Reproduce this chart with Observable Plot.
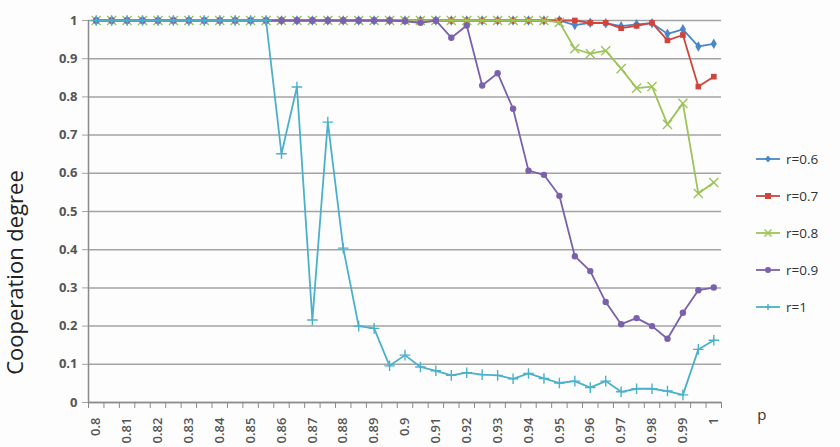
<!DOCTYPE html>
<html>
<head>
<meta charset="utf-8">
<script src="https://cdn.jsdelivr.net/npm/d3@7"></script>
<script src="https://cdn.jsdelivr.net/npm/@observablehq/plot@0.6"></script>
<style>
  body { margin: 0; background: #fdfdfd; }
  #wrap { position: relative; width: 840px; height: 447px; font-family: "Open Sans", sans-serif; }
  #legend { position: absolute; left: 756px; top: 140px; font-size: 13.5px; color: #333; }
  .item { display: flex; align-items: center; height: 37px; }
  .item svg { margin-right: 4px; }
</style>
</head>
<body>
<div id="wrap"></div>
<script>
const pValues = [0.8,0.805,0.81,0.815,0.82,0.825,0.83,0.835,0.84,0.845,0.85,0.855,0.86,0.865,0.87,0.875,0.88,0.885,0.89,0.895,0.9,0.905,0.91,0.915,0.92,0.925,0.93,0.935,0.94,0.945,0.95,0.955,0.96,0.965,0.97,0.975,0.98,0.985,0.99,0.995,1];
const tickLabels = [0.8,0.81,0.82,0.83,0.84,0.85,0.86,0.87,0.88,0.89,0.9,0.91,0.92,0.93,0.94,0.95,0.96,0.97,0.98,0.99,1];
const yTicks = [0,0.1,0.2,0.3,0.4,0.5,0.6,0.7,0.8,0.9,1];
const seriesNames = ["r=0.6","r=0.7","r=0.8","r=0.9","r=1"];
const seriesColors = ["#4a86c8","#d0443e","#9dc35a","#7b60ad","#4bb1cb"];
const seriesSymbols = ["diamond","square","times","circle","plus"];

const r06 = [1,1,1,1,1,1,1,1,1,1,1,1,1,1,1,1,1,1,1,1,1,1,1,1,1,1,1,1,1,1,1,0.988,0.994,0.993,0.985,0.99,0.993,0.965,0.977,0.932,0.939];
const r07 = [1,1,1,1,1,1,1,1,1,1,1,1,1,1,1,1,1,1,1,1,1,1,1,1,1,1,1,1,1,1,1,1,0.994,0.994,0.98,0.986,0.994,0.948,0.962,0.827,0.853];
const r08 = [1,1,1,1,1,1,1,1,1,1,1,1,1,1,1,1,1,1,1,1,1,1,1,1,1,1,1,1,1,1,0.995,0.926,0.913,0.921,0.874,0.823,0.827,0.728,0.783,0.547,0.576];
const r09 = [1,1,1,1,1,1,1,1,1,1,1,1,1,1,1,1,1,1,1,1,0.998,0.994,1,0.955,0.987,0.83,0.862,0.769,0.607,0.596,0.541,0.383,0.344,0.263,0.205,0.221,0.2,0.167,0.235,0.294,0.301];
const r1  = [1,1,1,1,1,1,1,1,1,1,1,1,0.651,0.826,0.216,0.734,0.404,0.2,0.194,0.096,0.124,0.093,0.083,0.071,0.078,0.073,0.071,0.062,0.076,0.063,0.051,0.056,0.039,0.056,0.028,0.036,0.036,0.03,0.02,0.139,0.163];
const seriesValues = [r06, r07, r08, r09, r1];

const half = (pValues[1] - pValues[0]) / 2;
const xDomain = [pValues[0] - half, pValues[pValues.length - 1] + half];
const boundaries = pValues.map(p => p - half).concat([pValues[pValues.length - 1] + half]);

const marks = [
  Plot.gridY(yTicks, {stroke: "#a3a3a3", strokeOpacity: 1, strokeWidth: 1.5}),
  Plot.axisY(yTicks, {tickSize: 6, tickPadding: 5, stroke: "#a3a3a3", color: "#555", fontSize: 13, fontWeight: "bold", tickFormat: d => String(d), label: null}),
  Plot.ruleX([xDomain[0]], {stroke: "#8a8a8a", strokeWidth: 1.5}),
  Plot.ruleY([0], {stroke: "#8a8a8a", strokeWidth: 1.5}),
  Plot.axisX(boundaries, {tickSize: 6, stroke: "#8a8a8a", tickFormat: () => "", label: null}),
  Plot.axisX(tickLabels, {tickSize: 0, tickPadding: 15, tickRotate: -90, color: "#555", fontSize: 13, fontWeight: "600", tickFormat: d => String(d), label: null})
];

seriesNames.forEach((name, k) => {
  const rows = pValues.map((p, i) => ({p, v: seriesValues[k][i]}));
  const c = seriesColors[k];
  const sym = seriesSymbols[k];
  const stroked = sym === "times" || sym === "plus";
  marks.push(Plot.line(rows, {x: "p", y: "v", stroke: c, strokeWidth: 1.8}));
  marks.push(Plot.dot(rows, {
    x: "p", y: "v", symbol: () => sym,
    r: sym === "times" ? 4.2 : (sym === "plus" ? 3.5 : 3.2),
    fill: stroked ? "none" : c,
    stroke: stroked ? c : "none",
    strokeWidth: 1.4
  }));
});

const chart = Plot.plot({
  width: 840,
  height: 447,
  marginLeft: 88,
  marginRight: 119,
  marginTop: 20,
  marginBottom: 45,
  style: {background: "#fdfdfd", fontFamily: "'Open Sans', sans-serif"},
  x: {type: "linear", domain: xDomain, axis: null},
  y: {domain: [0, 1], axis: null},
  symbol: {type: "ordinal"},
  marks: marks.concat([
    Plot.text(["Cooperation degree"], {frameAnchor: "left", textAnchor: "middle", dx: -73, dy: 61, rotate: -90, fontSize: 22, fill: "#222", text: d => d, letterSpacing: "1.5px"}),
    Plot.text(["p"], {frameAnchor: "bottom-right", dx: 45, dy: 17, fontSize: 15, fill: "#333", text: d => d})
  ])
});

const wrap = document.getElementById("wrap");
wrap.appendChild(chart);

const legend = document.createElement("div");
legend.id = "legend";
seriesNames.forEach((name, k) => {
  const item = document.createElement("div");
  item.className = "item";
  const c = seriesColors[k];
  const sym = seriesSymbols[k];
  let marker = "";
  if (sym === "diamond") marker = `<path d="M12,3.5 L15,7 L12,10.5 L9,7Z" fill="${c}"/>`;
  else if (sym === "square") marker = `<rect x="9" y="4" width="6" height="6" fill="${c}"/>`;
  else if (sym === "times") marker = `<path d="M8.5,3.5 L15.5,10.5 M15.5,3.5 L8.5,10.5" stroke="${c}" stroke-width="1.5"/>`;
  else if (sym === "circle") marker = `<circle cx="12" cy="7" r="3" fill="${c}"/>`;
  else marker = `<path d="M12,4 L12,10 M9,7 L15,7" stroke="${c}" stroke-width="1.5"/>`;
  item.innerHTML = `<svg width="26" height="14"><line x1="0" y1="7" x2="24" y2="7" stroke="${c}" stroke-width="1.8"/>${marker}</svg><span>${name}</span>`;
  legend.appendChild(item);
});
wrap.appendChild(legend);
</script>
</body>
</html>
